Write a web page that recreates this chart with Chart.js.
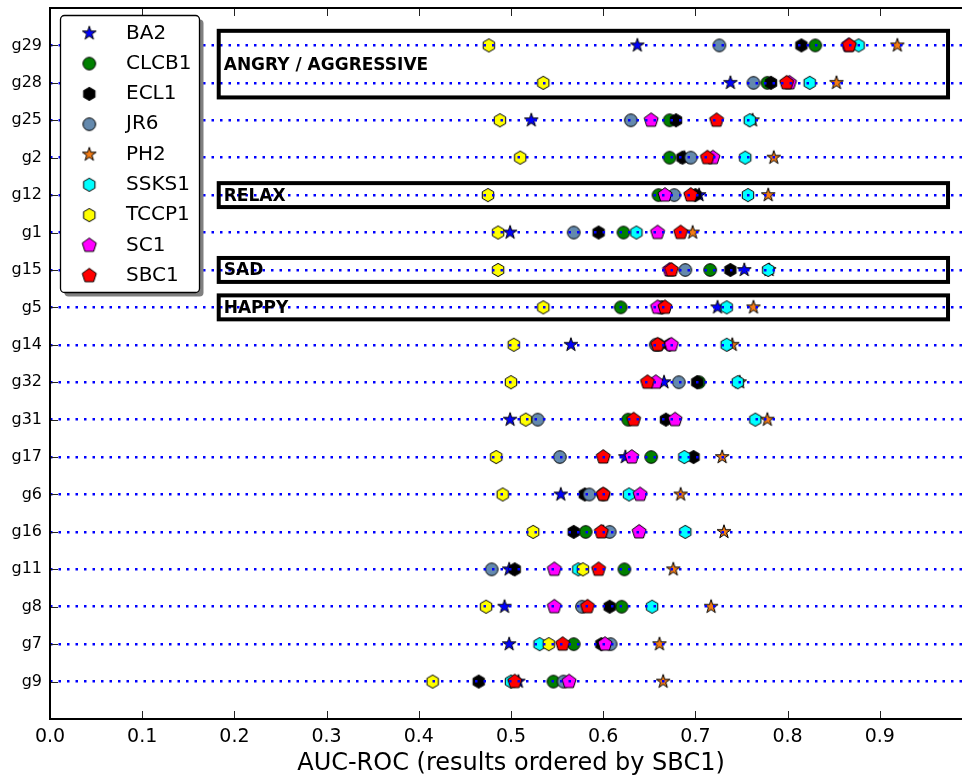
<!DOCTYPE html>
<html>
<head>
<meta charset="utf-8">
<script src="https://cdn.jsdelivr.net/npm/chart.js@4.4.1/dist/chart.umd.min.js"></script>
<style>
  html, body { margin: 0; padding: 0; background: #fff; overflow: hidden; }
  #wrap { position: relative; width: 980px; height: 778px; }
</style>
</head>
<body>
<div id="wrap"><canvas id="auc"></canvas></div>
<script>
// rows, top to bottom (ordered by SBC1)
var genres = ["g29", "g28", "g25", "g2", "g12", "g1", "g15", "g5", "g14",
              "g32", "g31", "g17", "g6", "g16", "g11", "g8", "g7", "g9"];

var ba2   = [0.637, 0.738, 0.522, 0.688, 0.704, 0.499, 0.753, 0.724, 0.565, 0.666, 0.499, 0.624, 0.554, 0.600, 0.498, 0.493, 0.498, 0.508];
var clcb1 = [0.830, 0.778, 0.672, 0.672, 0.660, 0.622, 0.716, 0.619, 0.660, 0.704, 0.627, 0.652, 0.600, 0.581, 0.623, 0.620, 0.568, 0.546];
var ecl1  = [0.815, 0.782, 0.679, 0.686, 0.700, 0.595, 0.738, 0.664, 0.672, 0.702, 0.668, 0.698, 0.580, 0.568, 0.504, 0.607, 0.598, 0.465];
var jr6   = [0.726, 0.763, 0.630, 0.695, 0.677, 0.568, 0.689, 0.662, 0.657, 0.682, 0.529, 0.553, 0.585, 0.607, 0.479, 0.577, 0.608, 0.557];
var ph2   = [0.919, 0.853, 0.762, 0.785, 0.779, 0.697, 0.780, 0.763, 0.740, 0.748, 0.778, 0.729, 0.684, 0.731, 0.676, 0.717, 0.661, 0.665];
var ssks1 = [0.877, 0.824, 0.759, 0.754, 0.757, 0.636, 0.779, 0.734, 0.734, 0.746, 0.765, 0.688, 0.628, 0.689, 0.573, 0.653, 0.531, 0.500];
var tccp1 = [0.476, 0.535, 0.488, 0.510, 0.475, 0.486, 0.486, 0.535, 0.503, 0.500, 0.516, 0.484, 0.491, 0.524, 0.578, 0.473, 0.541, 0.415];
var sc1   = [0.866, 0.802, 0.652, 0.719, 0.667, 0.659, 0.672, 0.659, 0.674, 0.657, 0.678, 0.631, 0.640, 0.639, 0.547, 0.547, 0.602, 0.563];
var sbc1  = [0.867, 0.799, 0.723, 0.713, 0.695, 0.684, 0.674, 0.667, 0.659, 0.648, 0.633, 0.600, 0.600, 0.598, 0.595, 0.583, 0.556, 0.504];

var seriesNames  = ["BA2", "CLCB1", "ECL1", "JR6", "PH2", "SSKS1", "TCCP1", "SC1", "SBC1"];
var seriesValues = [ba2, clcb1, ecl1, jr6, ph2, ssks1, tccp1, sc1, sbc1];

var xTickLabels = ["0.0", "0.1", "0.2", "0.3", "0.4", "0.5", "0.6", "0.7", "0.8", "0.9"];

// mood groups boxed on the chart
var groupLabels = ["ANGRY / AGGRESSIVE", "RELAX", "SAD", "HAPPY"];
var groupFirst  = ["g29", "g12", "g15", "g5"];
var groupLast   = ["g28", "g12", "g15", "g5"];

// marker looks
var shapes = ["star", "circle", "hexagon", "circle", "star", "hexagon", "hexagon", "pentagon", "pentagon"];
var colors = ["#0000ff", "#008000", "#000000", "#6489ad", "#f47c14", "#00ffff", "#ffff00", "#ff00ff", "#ff0000"];

var FONT = "'DejaVu Sans', 'Liberation Sans', sans-serif";
Chart.defaults.font.family = FONT;
Chart.defaults.color = "#000";

function makeMarker(shape, fill) {
  var size = 20;
  var c = document.createElement("canvas");
  c.width = size;
  c.height = size;
  var g = c.getContext("2d");
  var m = size / 2;
  g.beginPath();
  if (shape === "circle") {
    g.arc(m, m, 6.3, 0, Math.PI * 2);
  } else {
    var n, r, inner = 0;
    if (shape === "hexagon") { n = 6; r = 6.6; }
    if (shape === "pentagon") { n = 5; r = 7.4; }
    if (shape === "star") { n = 5; r = 7.2; inner = r * 0.382; }
    var steps = inner ? n * 2 : n;
    for (var k = 0; k < steps; k++) {
      var a = -Math.PI / 2 + k * 2 * Math.PI / steps;
      var rr = inner && k % 2 === 1 ? inner : r;
      var px = m + rr * Math.cos(a), py = m + rr * Math.sin(a);
      if (k === 0) g.moveTo(px, py); else g.lineTo(px, py);
    }
    g.closePath();
  }
  g.fillStyle = fill;
  g.fill();
  g.lineWidth = 1;
  g.strokeStyle = "#000";
  g.stroke();
  return c;
}

var markers = shapes.map(function (s, i) { return makeMarker(s, colors[i]); });

var datasets = seriesNames.map(function (name, i) {
  return {
    label: name,
    data: seriesValues[i].map(function (v, row) { return { x: v, y: row }; }),
    pointStyle: markers[i],
    pointRadius: 7,
    backgroundColor: colors[i],
    borderColor: "#000",
    order: seriesNames.length - 1 - i   // SBC1 drawn last, on top
  };
});

var framePlugin = {
  id: "frame",
  afterDraw: function (chart) {
    var g = chart.ctx;
    var xs = chart.scales.x, ys = chart.scales.y;
    var a = chart.chartArea;
    g.save();

    // group boxes
    g.lineWidth = 4;
    g.strokeStyle = "#000";
    g.fillStyle = "#000";
    g.font = "bold 17px " + FONT;
    g.textBaseline = "middle";
    g.textAlign = "left";
    for (var i = 0; i < groupLabels.length; i++) {
      var f = genres.indexOf(groupFirst[i]), l = genres.indexOf(groupLast[i]);
      var pad = l > f ? 0.39 : 0.32;
      var x1 = xs.getPixelForValue(0.183), x2 = xs.getPixelForValue(0.974);
      var y1 = ys.getPixelForValue(f - pad), y2 = ys.getPixelForValue(l + pad);
      g.strokeRect(x1, y1, x2 - x1, y2 - y1);
      g.fillText(groupLabels[i], x1 + 5, (y1 + y2) / 2 + 1);
    }

    // inward ticks
    g.lineWidth = 1;
    g.strokeStyle = "#222";
    g.beginPath();
    xTickLabels.forEach(function (t) {
      var px = Math.round(xs.getPixelForValue(parseFloat(t))) + 0.5;
      g.moveTo(px, a.bottom); g.lineTo(px, a.bottom - 8);
      g.moveTo(px, a.top); g.lineTo(px, a.top + 8);
    });
    genres.forEach(function (gname, row) {
      var py = Math.round(ys.getPixelForValue(row)) + 0.5;
      g.moveTo(a.left, py); g.lineTo(a.left + 8, py);
      g.moveTo(a.right, py); g.lineTo(a.right - 8, py);
    });
    g.stroke();

    // spines
    g.lineWidth = 2;
    g.strokeStyle = "#000";
    g.strokeRect(a.left, a.top, a.right - a.left, a.bottom - a.top);

    // legend
    var lx = 60.5, ly = 15.5, lw = 139, lh = 277;
    g.fillStyle = "#808080";
    g.beginPath();
    g.roundRect(lx + 4, ly + 4, lw, lh, 4);
    g.fill();
    g.fillStyle = "#fff";
    g.strokeStyle = "#000";
    g.lineWidth = 1.3;
    g.beginPath();
    g.roundRect(lx, ly, lw, lh, 4);
    g.fill();
    g.stroke();
    g.font = "20px " + FONT;
    g.fillStyle = "#000";
    g.textBaseline = "middle";
    seriesNames.forEach(function (name, i) {
      var cy = 33.3 + i * 30.3;
      g.drawImage(markers[i], 89.3 - 10, cy - 10);
      g.fillText(name, 126, cy);
    });
    g.restore();
  }
};

new Chart(document.getElementById("auc").getContext("2d"), {
  type: "scatter",
  data: { datasets: datasets },
  options: {
    responsive: true,
    maintainAspectRatio: false,
    animation: false,
    layout: { padding: { left: 0, right: 8, top: 6, bottom: 0 } },
    plugins: {
      legend: { display: false },
      tooltip: { enabled: false }
    },
    scales: {
      x: {
        type: "linear",
        min: 0,
        max: 1,
        afterFit: function (s) {
          s.height = 59;
          s.paddingLeft = 0;
          s.paddingRight = 0;
        },
        afterBuildTicks: function (s) {
          s.ticks = xTickLabels.map(function (t) { return { value: parseFloat(t) }; });
        },
        ticks: {
          autoSkip: false,
          maxRotation: 0,
          padding: 7,
          font: { size: 19 },
          callback: function (v, i) { return xTickLabels[i]; }
        },
        grid: { display: false, drawTicks: false },
        border: { display: false },
        title: {
          display: true,
          text: "AUC-ROC (results ordered by SBC1)",
          font: { size: 24 },
          padding: { top: 0, bottom: 0 }
        }
      },
      y: {
        type: "linear",
        reverse: true,
        min: -1,
        max: 18,
        afterFit: function (s) {
          s.width = 50;
          s.paddingTop = 0;
          s.paddingBottom = 0;
        },
        afterBuildTicks: function (s) {
          s.ticks = genres.map(function (gname, row) { return { value: row }; });
        },
        ticks: {
          autoSkip: false,
          padding: 8,
          font: { size: 16 },
          callback: function (v) { return genres[v]; }
        },
        grid: { z: 1, color: "#0000ff", lineWidth: 2.5, drawTicks: false },
        border: { display: false, dash: [2.5, 6] }
      }
    }
  },
  plugins: [framePlugin]
});
</script>
</body>
</html>
